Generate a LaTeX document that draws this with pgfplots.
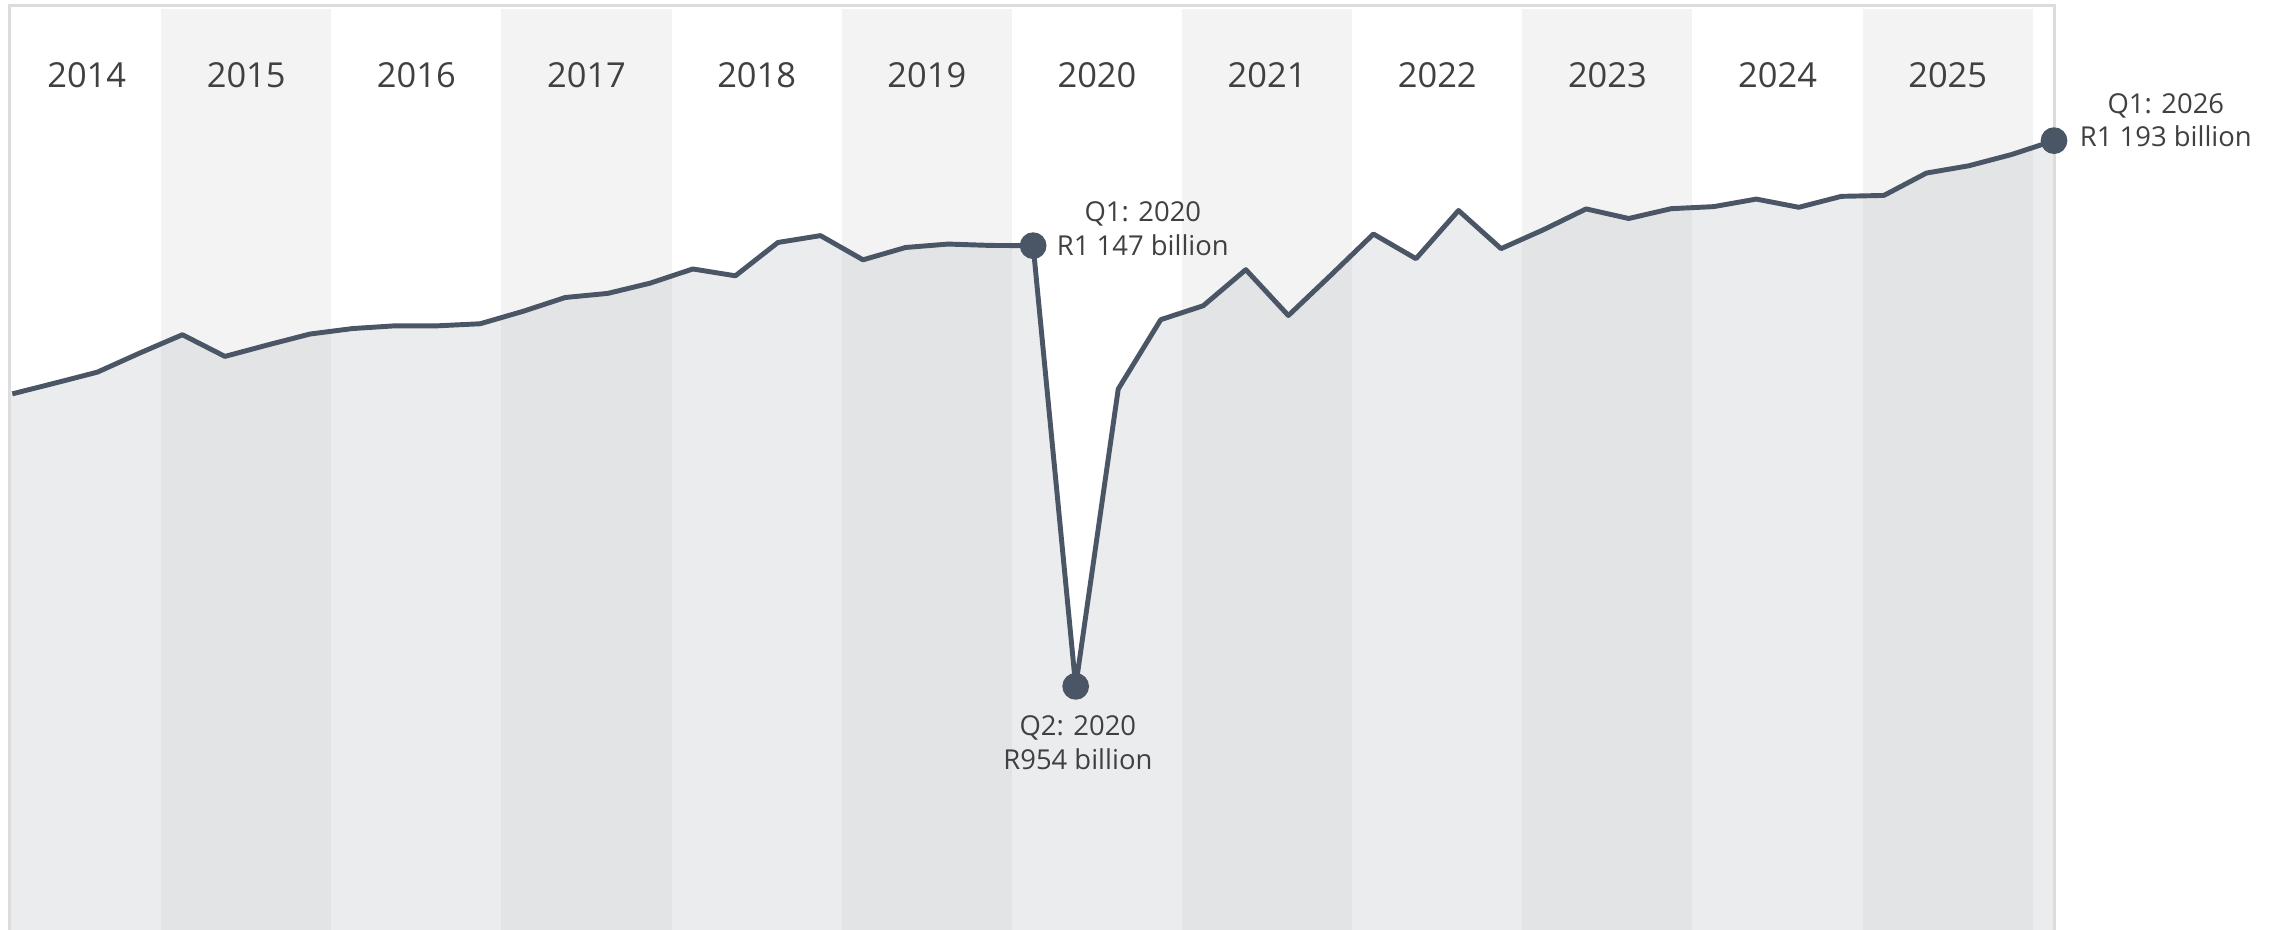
\documentclass[border=0pt]{standalone}
\usepackage{fontspec}
\setmainfont{Open Sans}
\usepackage{pgfplots}
\usepackage{pgfplotstable}
\pgfplotsset{compat=1.18}
\definecolor{bandgray}{RGB}{243,243,243}
\definecolor{areafill}{RGB}{195,198,204}
\definecolor{linecol}{RGB}{74,85,101}
\definecolor{txt}{RGB}{64,64,64}
\definecolor{framecol}{RGB}{220,220,220}

% quarter index (0 = Q1 2014 ... 48 = Q1 2026), value in R billion
\pgfplotstableread{
q v
0 1082.1
1 1086.8
2 1091.6
3 1100.0
4 1108.0
5 1098.5
6 1103.5
7 1108.3
8 1110.7
9 1111.9
10 1111.9
11 1112.8
12 1118.2
13 1124.3
14 1126.1
15 1130.6
16 1136.8
17 1133.8
18 1148.4
19 1151.4
20 1140.8
21 1146.2
22 1147.7
23 1147.1
24 1147.0
25 954.0
26 1084.2
27 1114.6
28 1120.7
29 1136.5
30 1116.4
31 1134.1
32 1152.1
33 1141.3
34 1162.4
35 1145.7
36 1154.0
37 1163.1
38 1158.9
39 1163.2
40 1164.1
41 1167.4
42 1163.8
43 1168.6
44 1169.0
45 1178.8
46 1182.0
47 1186.9
48 1193.0
}\gdp

\begin{document}
\begin{tikzpicture}[
  yr/.style={anchor=base, font=\fontsize{9.8}{11}\selectfont, text=txt, inner sep=0pt},
  ann/.style={anchor=base, font=\fontsize{7.8}{9.4}\selectfont, text=txt, inner sep=0pt},
]
\useasboundingbox (-0.093cm,0) rectangle (22.767cm,9.30cm);
\begin{axis}[
  scale only axis, width=20.447cm, height=9.243cm,
  xmin=-0.07, xmax=48, ymin=847.3, ymax=1252.1,
  hide axis, clip=false,
]
% alternating year bands
\addplot[draw=none, fill=bandgray] coordinates {(3.5,847.3) (3.5,1250.8) (7.5,1250.8) (7.5,847.3)};
\addplot[draw=none, fill=bandgray] coordinates {(11.5,847.3) (11.5,1250.8) (15.5,1250.8) (15.5,847.3)};
\addplot[draw=none, fill=bandgray] coordinates {(19.5,847.3) (19.5,1250.8) (23.5,1250.8) (23.5,847.3)};
\addplot[draw=none, fill=bandgray] coordinates {(27.5,847.3) (27.5,1250.8) (31.5,1250.8) (31.5,847.3)};
\addplot[draw=none, fill=bandgray] coordinates {(35.5,847.3) (35.5,1250.8) (39.5,1250.8) (39.5,847.3)};
\addplot[draw=none, fill=bandgray] coordinates {(43.5,847.3) (43.5,1250.8) (47.5,1250.8) (47.5,847.3)};
% area under the line
\addplot[draw=none, fill=areafill, fill opacity=0.333] table[x=q, y=v] {\gdp} -- (axis cs:48,847.3) -- (axis cs:-0.07,847.3) -- (axis cs:-0.07,1082.1) -- cycle;
% frame
\draw[framecol, line width=0.85pt] (rel axis cs:0,0) -- (rel axis cs:0,1) -- (rel axis cs:1,1) -- (rel axis cs:1,0);
% line
\addplot[linecol, line width=1.4pt, line join=round, mark=none] table[x=q, y=v] {\gdp};
% highlighted points
\addplot[only marks, mark=*, mark size=3.6pt, color=linecol, fill=linecol] coordinates {(24,1147) (25,954) (48,1193)};
% year labels
\node[yr] at (axis cs:1.75,1216.1) {2014};
\node[yr] at (axis cs:5.5,1216.1) {2015};
\node[yr] at (axis cs:9.5,1216.1) {2016};
\node[yr] at (axis cs:13.5,1216.1) {2017};
\node[yr] at (axis cs:17.5,1216.1) {2018};
\node[yr] at (axis cs:21.5,1216.1) {2019};
\node[yr] at (axis cs:25.5,1216.1) {2020};
\node[yr] at (axis cs:29.5,1216.1) {2021};
\node[yr] at (axis cs:33.5,1216.1) {2022};
\node[yr] at (axis cs:37.5,1216.1) {2023};
\node[yr] at (axis cs:41.5,1216.1) {2024};
\node[yr] at (axis cs:45.5,1216.1) {2025};
% annotations
\node[ann, xshift=1.097cm, yshift=0.243cm] at (axis cs:24,1147) {Q1: 2020};
\node[ann, xshift=1.097cm, yshift=-0.10cm] at (axis cs:24,1147) {R1 147 billion};
\node[ann, xshift=0.022cm, yshift=-0.492cm] at (axis cs:25,954) {Q2: 2020};
\node[ann, xshift=0.022cm, yshift=-0.835cm] at (axis cs:25,954) {R954 billion};
\node[ann, xshift=1.118cm, yshift=0.27cm] at (axis cs:48,1193) {Q1: 2026};
\node[ann, xshift=1.118cm, yshift=-0.063cm] at (axis cs:48,1193) {R1 193 billion};
\end{axis}
\end{tikzpicture}
\end{document}
